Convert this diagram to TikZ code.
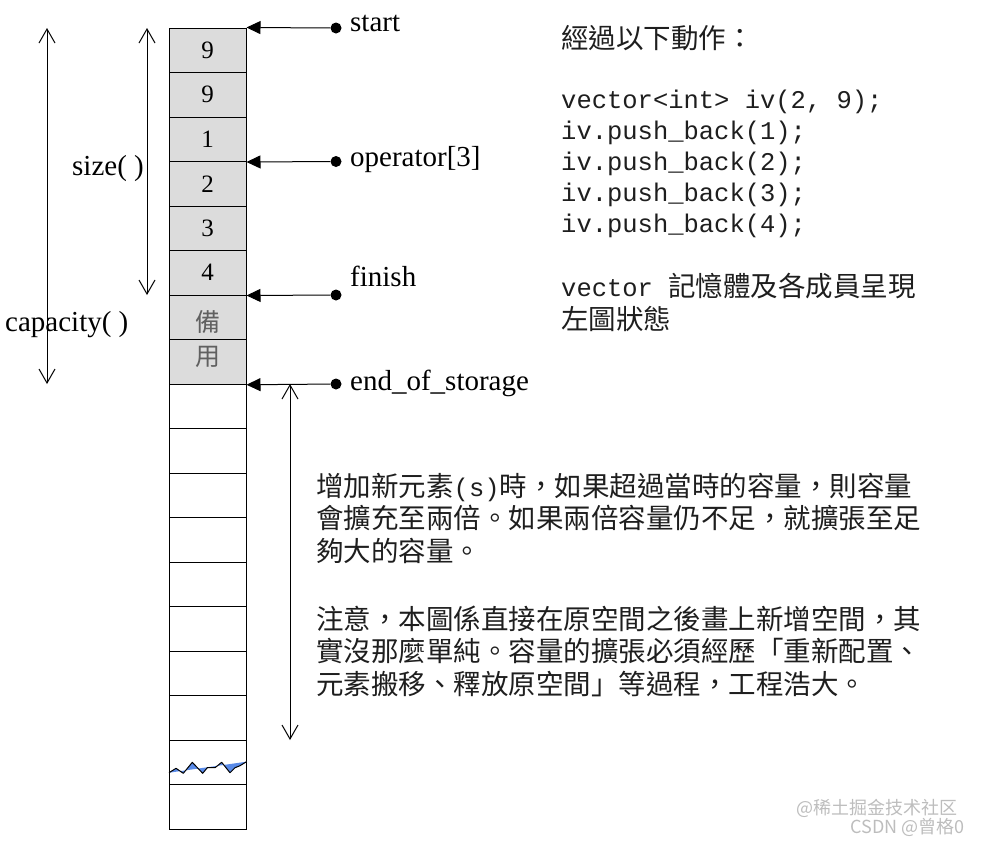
\documentclass[tikz,border=0pt]{standalone}
\usepackage{fontspec}
\setmainfont{Liberation Serif}
\newfontfamily\cjk{Noto Sans CJK TC}
\newfontfamily\cjksc{Noto Sans CJK SC}
\newfontfamily\codefont{Liberation Mono}
\usetikzlibrary{arrows.meta}
\definecolor{cellgray}{HTML}{DCDCDC}
\definecolor{ink}{HTML}{1E1E1E}
\definecolor{spare}{HTML}{606060}
\definecolor{wave}{HTML}{5A8BE8}
\definecolor{wmark}{HTML}{BDBDBD}

\begin{document}
\begin{tikzpicture}[x=1pt,y=-1pt,
  cell/.style={draw=black,line width=1pt,minimum width=77pt,minimum height=44.5pt,
    inner sep=0pt,font=\fontsize{25}{25}\selectfont},
  ptr/.style={-{Triangle[length=14pt,width=13pt]},line width=1pt},
  dot/.style={circle,fill=black,inner sep=0pt,minimum size=11pt},
  dim/.style={{Straight Barb[length=14pt,width=16pt]}-{Straight Barb[length=14pt,width=16pt]},
    line width=1pt},
  lbl/.style={anchor=base west,inner sep=0pt,font=\fontsize{29}{29}\selectfont},
  note/.style={anchor=base west,align=left,inner sep=0pt,text=ink,
    font=\cjk\fontsize{27.5}{32.5}\selectfont}]
  \useasboundingbox (0,0) rectangle (981,844);

  % the vector cells
  \foreach \i/\v in {1/9,2/9,3/1,4/2,5/3,6/4}
    \node[cell,fill=cellgray] (c\i) at (207.5,{28+44.5*(\i-0.5)}) {\v};
  \node[cell,fill=cellgray] (c7) at (207.5,317.5) {};
  \node[cell,fill=cellgray] (c8) at (207.5,362) {};
  \foreach \i in {9,...,18}
    \node[cell] (c\i) at (207.5,{28+44.5*(\i-0.5)}) {};
  \node[text=spare,font=\cjk\fontsize{25}{25}\selectfont] (bei) at (207.5,322) {備};
  \node[text=spare,font=\cjk\fontsize{25}{25}\selectfont] (yong) at (207.5,357) {用};

  % torn edge in the second to last cell
  \fill[wave] (169,772.7) -- (176,768.3) -- (183.3,773.3) -- (192.3,762.3) -- (202.7,773.3)
    -- (207.3,767.7) -- (215,767.7) -- (221.7,762.3) -- (230,772.7) -- (235,767.7)
    -- (240,765.7) -- (246.5,761.7) -- cycle;
  \draw[line width=1pt,line join=round] (169,772.7) -- (176,768.3) -- (183.3,773.3)
    -- (192.3,762.3) -- (202.7,773.3) -- (207.3,767.7) -- (215,767.7) -- (221.7,762.3)
    -- (230,772.7) -- (235,767.7) -- (240,765.7) -- (246.5,761.7);

  % iterators
  \node[dot] (pstart) at (336,28) {};
  \node[dot] (pop) at (336,161.5) {};
  \node[dot] (pfinish) at (336,295) {};
  \node[dot] (pend) at (336,384) {};
  \draw[ptr] (pstart) -- (c1.north east);
  \draw[ptr] (pop) -- (c3.south east);
  \draw[ptr] (pfinish) -- (c6.south east);
  \draw[ptr] (pend) -- (c8.south east);
  \node[lbl] (lstart) at (350,31.5) {start};
  \node[lbl] (lop) at (350,166) {operator[3]};
  \node[lbl] (lfinish) at (350,286.5) {finish};
  \node[lbl] (lend) at (350,390) {end\_of\_storage};

  % size and capacity
  \coordinate (capT) at (47,28);
  \coordinate (capB) at (47,384);
  \coordinate (sizeT) at (147,28);
  \coordinate (sizeB) at (147,295);
  \coordinate (growT) at (290,384);
  \coordinate (growB) at (290,740);
  \draw[dim] (capT) -- (capB);
  \draw[dim] (sizeT) -- (sizeB);
  \draw[dim] (growT) -- (growB);
  \node[lbl] (lsize) at (72,175) {size( )};
  \node[lbl] (lcap) at (5,331.5) {capacity( )};

  % explanations (base anchor = last line)
  \node[note] (steps) at (561,48) {經過以下動作：};
  \node[anchor=base west,align=left,inner sep=0pt,text=ink,
    font=\codefont\fontsize{25.5}{31}\selectfont] (code) at (561,232.5)
    {vector<int> iv(2, 9);\\iv.push\_back(1);\\iv.push\_back(2);\\iv.push\_back(3);\\iv.push\_back(4);};
  \node[note,font=\cjk\fontsize{27.5}{33}\selectfont] (state) at (561,329)
    {{\codefont\fontsize{25.5}{33}\selectfont vector }記憶體及各成員呈現\\左圖狀態};
  \node[note] (grow) at (316,561)
    {增加新元素{\codefont\fontsize{25.5}{32.5}\selectfont (s)}時，如果超過當時的容量，則容量\\會擴充至兩倍。如果兩倍容量仍不足，就擴張至足\\夠大的容量。};
  \node[note] (caveat) at (316,694)
    {注意，本圖係直接在原空間之後畫上新增空間，其\\實沒那麼單純。容量的擴張必須經歷「重新配置、\\元素搬移、釋放原空間」等過程，工程浩大。};

  % watermark
  \node[anchor=base east,inner sep=0pt,text=wmark,font=\cjksc\fontsize{18}{18}\selectfont]
    (wm1) at (958,814) {@稀土掘金技术社区};
  \node[anchor=base east,inner sep=0pt,text=wmark,font=\cjksc\fontsize{18}{18}\selectfont]
    (wm2) at (965,833) {CSDN @曾格0};
\end{tikzpicture}
\end{document}
